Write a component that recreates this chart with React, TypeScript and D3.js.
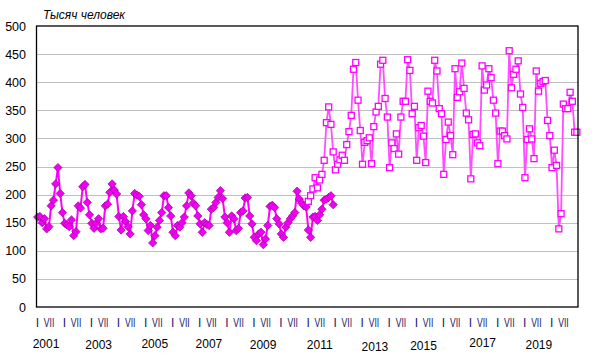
import React, { useEffect, useRef } from "react";
import * as d3 from "d3";

// Monthly values, thousand people
// series 1 (diamonds): Jan 2001 - Dec 2011
const oldSeries: number[] = [
  160, 161, 150, 157, 139, 143, 180, 190, 219, 248, 202, 168, // 2001
  149, 146, 143, 155, 127, 134, 180, 176, 214, 218, 186, 164, // 2002
  149, 140, 149, 157, 139, 140, 180, 183, 204, 219, 208, 201, // 2003
  161, 137, 161, 152, 143, 130, 171, 202, 199, 197, 182, 164, // 2004
  157, 136, 145, 114, 127, 142, 154, 168, 198, 198, 177, 162, // 2005
  133, 127, 145, 142, 150, 160, 180, 203, 198, 185, 180, 162, // 2006
  148, 133, 150, 147, 145, 174, 177, 186, 195, 207, 193, 160, // 2007
  150, 133, 162, 157, 136, 140, 168, 171, 194, 195, 162, 148, // 2008
  124, 118, 130, 133, 111, 121, 145, 179, 181, 177, 157, 148, // 2009
  130, 124, 142, 150, 157, 162, 168, 206, 192, 185, 180, 178, // 2010
  137, 124, 160, 161, 154, 164, 174, 190, 192, 195, 198, 182, // 2011
];

// series 2 (squares): Jan 2011 - Dec 2020
const newSeries: number[] = [
  188, 198, 210, 230, 212, 226, 236, 261, 328, 356, 325, 276, // 2011
  244, 254, 262, 270, 261, 289, 312, 341, 423, 435, 368, 314, // 2012
  254, 293, 296, 301, 255, 321, 347, 357, 432, 439, 371, 338, // 2013
  248, 292, 282, 308, 272, 338, 366, 366, 440, 421, 344, 357, // 2014
  261, 319, 323, 304, 257, 384, 366, 363, 439, 420, 353, 344, // 2015
  236, 298, 329, 305, 271, 424, 373, 383, 434, 389, 345, 333, // 2016
  228, 307, 308, 292, 287, 429, 386, 395, 424, 408, 368, 345, // 2017
  255, 313, 313, 305, 299, 456, 390, 414, 423, 438, 379, 355, // 2018
  230, 298, 317, 299, 264, 420, 384, 398, 401, 403, 332, 305, // 2019
  248, 279, 252, 139, 166, 361, 353, 353, 382, 366, 311, 311, // 2020
];

const firstYear = 2001;
const yearCount = 20;
const newSeriesStart = 120; // month index of Jan 2011
const monthLabels = ["I", "VII"];
const monthLabelIndex = [0, 6];
const yearLabels = ["2001", "2003", "2005", "2007", "2009", "2011", "2013", "2015", "2017", "2019"];
const yTicks = [0, 50, 100, 150, 200, 250, 300, 350, 400, 450, 500];
const unitLabel = "Тысяч человек";

const W = 592;
const H = 362;
const font = "Arial, 'Liberation Sans', sans-serif";

const App: React.FC = () => {
  const svgRef = useRef<SVGSVGElement | null>(null);

  useEffect(() => {
    if (!svgRef.current) return;
    const svg = d3.select(svgRef.current);
    svg.selectAll("*").remove();

    const margin = { top: 26, right: 14, bottom: 55, left: 36.5 };
    const months = d3.range(yearCount * 12);

    const x = d3.scaleBand<number>().domain(months).range([margin.left, W - margin.right]);
    const y = d3.scaleLinear().domain([0, 500]).range([H - margin.bottom, margin.top]);
    const cx = (i: number) => (x(i) ?? 0) + x.bandwidth() / 2;

    svg.append("rect").attr("width", W).attr("height", H).attr("fill", "#fff");

    // grid
    svg.append("g")
      .selectAll("line")
      .data(yTicks.filter((t) => t > 0 && t < 500))
      .enter()
      .append("line")
      .attr("x1", margin.left)
      .attr("x2", W - margin.right)
      .attr("y1", (d) => Math.round(y(d)) + 0.5)
      .attr("y2", (d) => Math.round(y(d)) + 0.5)
      .attr("stroke", "#c0c0c0")
      .attr("stroke-width", 1);

    // y labels
    svg.append("g")
      .selectAll("text")
      .data(yTicks)
      .enter()
      .append("text")
      .attr("x", 26)
      .attr("y", (d) => y(d) + 4.5)
      .attr("text-anchor", "end")
      .style("font-family", font)
      .style("font-size", "12.5px")
      .attr("fill", "#000")
      .text((d) => d);

    svg.append("text")
      .attr("x", 43)
      .attr("y", 19)
      .style("font-family", font)
      .style("font-size", "12px")
      .style("font-style", "italic")
      .text(unitLabel);

    // month ticks I / VII
    const mlab = svg.append("g");
    d3.range(yearCount).forEach((k) => {
      monthLabels.forEach((lab, j) => {
        const i = k * 12 + monthLabelIndex[j];
        const t = mlab.append("text")
          .attr("x", j === 0 ? (x(i) ?? 0) + 0.8 : (x(i) ?? 0) - 1)
          .attr("y", 327)
          .attr("text-anchor", "middle")
          .style("font-family", font)
          .style("font-size", "12px")
          .attr("fill", "#1a1a66")
          .text(lab);
        if (lab === "VII") t.attr("textLength", 10.5).attr("lengthAdjust", "spacingAndGlyphs");
      });
    });

    // year labels (every other year), small nudges as in the source picture
    const yearDx = [9.5, 8, 10, 10, 10, 12.5, 13.5, 8, 13, 15];
    const yearBase = [347.7, 349.3, 347.7, 347.7, 349.3, 349, 351, 350, 346.7, 349];
    svg.append("g")
      .selectAll("text")
      .data(yearLabels)
      .enter()
      .append("text")
      .attr("x", (d, k) => (x((+d - firstYear) * 12) ?? 0) + yearDx[k])
      .attr("y", (_, k) => yearBase[k])
      .attr("text-anchor", "middle")
      .style("font-family", font)
      .style("font-size", "12px")
      .attr("fill", "#000")
      .text((d) => d);

    // series 1: line + diamonds
    const line1 = d3.line<number>()
      .x((_, i) => cx(i))
      .y((d) => y(d));
    svg.append("path")
      .attr("d", line1(oldSeries))
      .attr("fill", "none")
      .attr("stroke", "#ff00ff")
      .attr("stroke-width", 2);

    const diamond = d3.symbol().type(d3.symbolDiamond2).size(44);
    svg.append("g")
      .selectAll("path")
      .data(oldSeries)
      .enter()
      .append("path")
      .attr("d", diamond)
      .attr("transform", (d, i) => `translate(${cx(i)},${y(d)})`)
      .attr("fill", "#f000f0")
      .attr("stroke", "#a000a0")
      .attr("stroke-width", 0.7);

    // series 2: line + open squares
    const line2 = d3.line<number>()
      .x((_, i) => cx(i + newSeriesStart))
      .y((d) => y(d));
    svg.append("path")
      .attr("d", line2(newSeries))
      .attr("fill", "none")
      .attr("stroke", "#ff4dff")
      .attr("stroke-width", 1.8);

    svg.append("g")
      .selectAll("rect")
      .data(newSeries)
      .enter()
      .append("rect")
      .attr("x", (_, i) => cx(i + newSeriesStart) - 3)
      .attr("y", (d) => y(d) - 3)
      .attr("width", 6)
      .attr("height", 6)
      .attr("fill", "#fff")
      .attr("stroke", "#ff00ff")
      .attr("stroke-width", 1.3);

    // plot frame
    svg.append("rect")
      .attr("x", margin.left)
      .attr("y", margin.top)
      .attr("width", W - margin.right - margin.left)
      .attr("height", H - margin.bottom - margin.top)
      .attr("fill", "none")
      .attr("stroke", "#000")
      .attr("stroke-width", 1.3);
  }, []);

  return (
    <svg
      ref={svgRef}
      width={W}
      height={H}
      style={{ position: "absolute", left: 0, top: 0, display: "block" }}
    />
  );
};

export default App;
